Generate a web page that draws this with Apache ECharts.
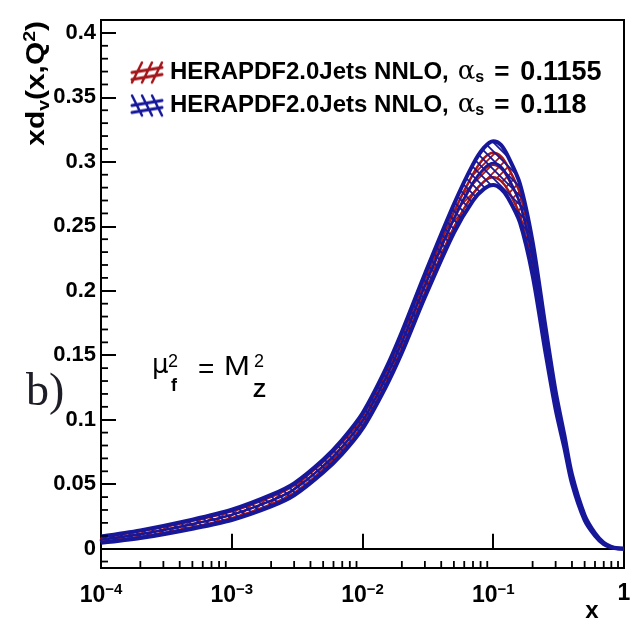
<!DOCTYPE html>
<html>
<head>
<meta charset="utf-8">
<script src="https://cdn.jsdelivr.net/npm/echarts@6/dist/echarts.min.js"></script>
<style>
  html, body { margin: 0; background: #fff; }
  #chart { width: 636px; height: 628px; }
</style>
</head>
<body>
<div id="chart"></div>
<script>
// x grid (log scale) and the read-off band edges / central values
const xValues  = [1e-4, 2e-4, 5e-4, 1e-3, 2e-3, 3e-3, 5e-3, 7e-3, 1e-2, 1.5e-2, 2e-2, 3e-2, 5e-2, 7e-2, 0.085, 0.1, 0.115, 0.13, 0.16, 0.2, 0.25, 0.3, 0.35, 0.4, 0.5, 0.6, 0.7, 0.8, 0.9, 1.0];

// alpha_s = 0.118 (blue)
const blueUpper  = [0.0095, 0.0142, 0.0225, 0.0302, 0.0417, 0.0507, 0.0690, 0.0845, 0.1050, 0.1390, 0.1680, 0.2130, 0.2670, 0.2980, 0.3110, 0.3160, 0.3130, 0.3040, 0.2830, 0.2380, 0.1730, 0.1220, 0.0880, 0.0575, 0.0260, 0.0120, 0.0045, 0.0014, 0.0003, 0];
const blueCenter = [0.0070, 0.0112, 0.0190, 0.0262, 0.0372, 0.0460, 0.0640, 0.0790, 0.0990, 0.1320, 0.1600, 0.2040, 0.2560, 0.2840, 0.2950, 0.2990, 0.2960, 0.2880, 0.2680, 0.2250, 0.1630, 0.1150, 0.0830, 0.0540, 0.0240, 0.0110, 0.0040, 0.0012, 0.0002, 0];
const blueLower  = [0.0045, 0.0082, 0.0155, 0.0222, 0.0327, 0.0413, 0.0590, 0.0735, 0.0930, 0.1250, 0.1520, 0.1950, 0.2450, 0.2700, 0.2790, 0.2820, 0.2790, 0.2720, 0.2530, 0.2120, 0.1530, 0.1080, 0.0780, 0.0505, 0.0220, 0.0100, 0.0035, 0.0010, 0.0001, 0];

// alpha_s = 0.1155 (red)
const redUpper  = [0.0088, 0.0134, 0.0215, 0.0289, 0.0402, 0.0491, 0.0672, 0.0823, 0.1025, 0.1358, 0.1643, 0.2085, 0.2610, 0.2905, 0.3028, 0.3070, 0.3040, 0.2958, 0.2755, 0.2317, 0.1685, 0.1188, 0.0857, 0.0559, 0.0251, 0.0115, 0.0042, 0.0013, 0.0002, 0];
const redCenter = [0.0071, 0.0113, 0.0191, 0.0263, 0.0373, 0.0461, 0.0641, 0.0790, 0.0990, 0.1318, 0.1598, 0.2035, 0.2550, 0.2828, 0.2938, 0.2975, 0.2945, 0.2868, 0.2670, 0.2245, 0.1630, 0.1150, 0.0830, 0.0540, 0.0240, 0.0110, 0.0040, 0.0012, 0.0002, 0];
const redLower  = [0.0054, 0.0092, 0.0167, 0.0237, 0.0344, 0.0431, 0.0610, 0.0757, 0.0955, 0.1278, 0.1553, 0.1985, 0.2490, 0.2751, 0.2848, 0.2880, 0.2850, 0.2778, 0.2585, 0.2173, 0.1575, 0.1112, 0.0803, 0.0521, 0.0229, 0.0105, 0.0038, 0.0011, 0.0002, 0];

const legendTexts = ['HERAPDF2.0Jets NNLO,', 'HERAPDF2.0Jets NNLO,'];
const alphaValues = ['0.1155', '0.118'];
const bandNames = ['HERAPDF2.0Jets NNLO, αs = 0.1155', 'HERAPDF2.0Jets NNLO, αs = 0.118'];

const xMinorTicks = [2e-4, 3e-4, 4e-4, 5e-4, 6e-4, 7e-4, 8e-4, 9e-4,
                     2e-3, 3e-3, 4e-3, 5e-3, 6e-3, 7e-3, 8e-3, 9e-3,
                     2e-2, 3e-2, 4e-2, 5e-2, 6e-2, 7e-2, 8e-2, 9e-2,
                     0.2, 0.3, 0.4, 0.5, 0.6, 0.7, 0.8, 0.9];
const yMinorTicks = [-0.01, 0.01, 0.02, 0.03, 0.04, 0.06, 0.07, 0.08, 0.09, 0.11, 0.12, 0.13, 0.14,
                     0.16, 0.17, 0.18, 0.19, 0.21, 0.22, 0.23, 0.24, 0.26, 0.27, 0.28, 0.29,
                     0.31, 0.32, 0.33, 0.34, 0.36, 0.37, 0.38, 0.39];

const RED = '#a3161a';
const BLUE = '#17179a';

function hatch(color, dir) {
  const c = document.createElement('canvas');
  c.width = 9; c.height = 9;
  const g = c.getContext('2d');
  g.strokeStyle = color; g.lineWidth = 1.7;
  g.beginPath();
  if (dir > 0) {
    g.moveTo(-1, 10); g.lineTo(10, -1);
    g.moveTo(-1, 1); g.lineTo(1, -1);
    g.moveTo(8, 10); g.lineTo(10, 8);
  } else {
    g.moveTo(-1, -1); g.lineTo(10, 10);
    g.moveTo(8, -1); g.lineTo(10, 1);
    g.moveTo(-1, 8); g.lineTo(1, 10);
  }
  g.stroke();
  return c;
}

function legendIcon(color, dir) {
  const c = document.createElement('canvas');
  c.width = 36; c.height = 24;
  const g = c.getContext('2d');
  g.strokeStyle = color; g.lineWidth = 3; g.lineCap = 'round';
  g.beginPath();
  g.moveTo(3, 12); g.lineTo(33, 7);
  g.moveTo(3, 19); g.lineTo(33, 14);
  g.stroke();
  g.lineWidth = 2.5;
  for (let i = 0; i < 3; i++) {
    const x = 8 + i * 10;
    g.beginPath();
    if (dir > 0) { g.moveTo(x - 5, 22); g.lineTo(x + 5, 2); }
    else { g.moveTo(x - 5, 2); g.lineTo(x + 5, 22); }
    g.stroke();
  }
  return 'image://' + c.toDataURL();
}

const pairs = (ys) => xValues.map((x, i) => [x, ys[i]]);

// hatched area between lower and upper edge, placed with the chart's axes
function bandRenderer(lo, hi, color, dir) {
  const pattern = { image: hatch(color, dir), repeat: 'repeat' };
  return function (params, api) {
    const top = xValues.map((x, i) => api.coord([x, hi[i]]));
    const bottom = xValues.map((x, i) => api.coord([x, lo[i]])).reverse();
    return {
      type: 'polygon',
      shape: { points: top.concat(bottom), smooth: 0.3 },
      style: { fill: pattern, stroke: null }
    };
  };
}

function tickRenderer(dir, len) {
  return function (params, api) {
    const cs = params.coordSys;
    const p = api.coord([api.value(0), api.value(1)]);
    const shape = dir === 'x'
      ? { x1: p[0], y1: cs.y + cs.height, x2: p[0], y2: cs.y + cs.height - len }
      : { x1: cs.x, y1: p[1], x2: cs.x + len, y2: p[1] };
    return { type: 'line', shape: shape, style: { stroke: '#000', lineWidth: 1.8 } };
  };
}

function edge(name, ys, color, width, z) {
  return { type: 'line', name: name, data: pairs(ys), showSymbol: false, smooth: 0.3, z: z,
           lineStyle: { color: color, width: width }, silent: true };
}

const chart = echarts.init(document.getElementById('chart'));

const labelFont = '"Liberation Sans", Arial, sans-serif';

const option = {
  animation: false,
  backgroundColor: '#fff',
  grid: { left: 101, right: 12, top: 20, bottom: 60, show: true, borderColor: '#000', borderWidth: 2 },
  legend: {
    orient: 'vertical', left: 124, top: 54, itemGap: 6, itemWidth: 36, itemHeight: 24,
    data: [
      { name: bandNames[0], icon: legendIcon(RED, 1) },
      { name: bandNames[1], icon: legendIcon(BLUE, -1) }
    ],
    formatter: function (name) {
      const i = bandNames.indexOf(name);
      return '{t|' + legendTexts[i] + '}{a|α}{s|s}{e|=}{n|' + alphaValues[i] + '}';
    },
    textStyle: {
      rich: {
        t: { fontFamily: labelFont, fontWeight: 'bold', fontSize: 24, color: '#000' },
        a: { fontFamily: '"DejaVu Serif", serif', fontSize: 26, color: '#000', padding: [0, 0, 0, 9] },
        s: { fontFamily: labelFont, fontWeight: 'bold', fontSize: 16, color: '#000', padding: [11, 0, 0, 0] },
        e: { fontFamily: labelFont, fontWeight: 'bold', fontSize: 26, color: '#000', padding: [0, 11, 0, 10] },
        n: { fontFamily: labelFont, fontWeight: 'bold', fontSize: 27, color: '#000' }
      }
    },
    selectedMode: false
  },
  xAxis: {
    type: 'log', logBase: 10, min: 1e-4, max: 1,
    axisLine: { lineStyle: { color: '#000', width: 2 } },
    axisTick: { inside: true, length: 15, lineStyle: { color: '#000', width: 2 } },
    splitLine: { show: false },
    axisLabel: {
      margin: 14,
      formatter: function (v) {
        const e = Math.round(Math.log10(v));
        return e === 0 ? '{b|1}' : '{b|10}{s|−' + (-e) + '}';
      },
      rich: {
        b: { fontFamily: labelFont, fontWeight: 'bold', fontSize: 23, color: '#000' },
        s: { fontFamily: labelFont, fontWeight: 'bold', fontSize: 15, color: '#000', padding: [0, 0, 12, 0] }
      }
    }
  },
  yAxis: {
    type: 'value', min: -0.015, max: 0.41, splitNumber: 8,
    axisLine: { lineStyle: { color: '#000', width: 2 } },
    axisTick: { inside: true, length: 15, lineStyle: { color: '#000', width: 2 } },
    splitLine: { show: false },
    axisLabel: {
      margin: 5, showMinLabel: false, showMaxLabel: false,
      fontFamily: labelFont, fontWeight: 'bold', fontSize: 22, color: '#000',
      formatter: function (v) { return String(Math.round(v * 1000) / 1000); }
    }
  },
  graphic: [
    {
      type: 'text', x: 37, y: 21, rotation: Math.PI / 2, scaleX: 1.15,
      style: {
        text: '{m|xd}{sub|v}{m|(x,Q}{sup|2}{m|)}', align: 'right', verticalAlign: 'middle',
        rich: {
          m: { fontFamily: labelFont, fontWeight: 'bold', fontSize: 26, fill: '#000' },
          sub: { fontFamily: labelFont, fontWeight: 'bold', fontSize: 17, fill: '#000', padding: [14, 0, 0, 0] },
          sup: { fontFamily: labelFont, fontWeight: 'bold', fontSize: 17, fill: '#000', padding: [0, 0, 14, 0] }
        }
      }
    },
    { type: 'text', x: 592, y: 611, style: { text: 'x', font: 'bold 24px ' + labelFont, fill: '#000', align: 'center', verticalAlign: 'middle' } },
    { type: 'text', x: 26, y: 393, style: { text: 'b)', font: '46px "Liberation Serif", serif', fill: '#1e1e28', align: 'left', verticalAlign: 'middle' } },
    { type: 'text', x: 152, y: 366, style: { text: 'μ', font: '26px "DejaVu Sans", sans-serif', fill: '#000', align: 'left', verticalAlign: 'middle' } },
    { type: 'text', x: 168, y: 362, style: { text: '2', font: '18px ' + labelFont, fill: '#000', align: 'left', verticalAlign: 'middle' } },
    { type: 'text', x: 171, y: 386, style: { text: 'f', font: 'bold 18px ' + labelFont, fill: '#000', align: 'left', verticalAlign: 'middle' } },
    { type: 'text', x: 198, y: 370, style: { text: '=', font: '28px ' + labelFont, fill: '#000', align: 'left', verticalAlign: 'middle' } },
    { type: 'text', x: 224, y: 368, scaleX: 1.15, style: { text: 'M', font: '27px ' + labelFont, fill: '#000', align: 'left', verticalAlign: 'middle' } },
    { type: 'text', x: 254, y: 362, style: { text: '2', font: '18px ' + labelFont, fill: '#000', align: 'left', verticalAlign: 'middle' } },
    { type: 'text', x: 253, y: 391, style: { text: 'Z', font: 'bold 21px ' + labelFont, fill: '#000', align: 'left', verticalAlign: 'middle' } }
  ],
  series: [
    { type: 'custom', name: bandNames[0], renderItem: bandRenderer(redLower, redUpper, RED, 1), data: [[xValues[0], redLower[0]]], itemStyle: { color: RED }, silent: true, z: 2 },
    edge('red lower', redLower, RED, 2.5, 3),
    edge('red upper', redUpper, RED, 2.5, 3),
    edge('red center', redCenter, RED, 2, 3),
    { type: 'custom', name: bandNames[1], renderItem: bandRenderer(blueLower, blueUpper, BLUE, -1), data: [[xValues[0], blueLower[0]]], itemStyle: { color: BLUE }, silent: true, z: 4 },
    edge('blue lower', blueLower, BLUE, 4, 5),
    edge('blue upper', blueUpper, BLUE, 4, 5),
    edge('blue center', blueCenter, BLUE, 2.5, 5),
    {
      type: 'custom', name: 'x minor ticks', renderItem: tickRenderer('x', 7), clip: false, silent: true, z: 10,
      data: xMinorTicks.map(v => [v, 0])
    },
    {
      type: 'custom', name: 'y minor ticks', renderItem: tickRenderer('y', 7), clip: false, silent: true, z: 10,
      data: yMinorTicks.map(v => [1e-4, v])
    }
  ]
};

chart.setOption(option);
</script>
</body>
</html>
